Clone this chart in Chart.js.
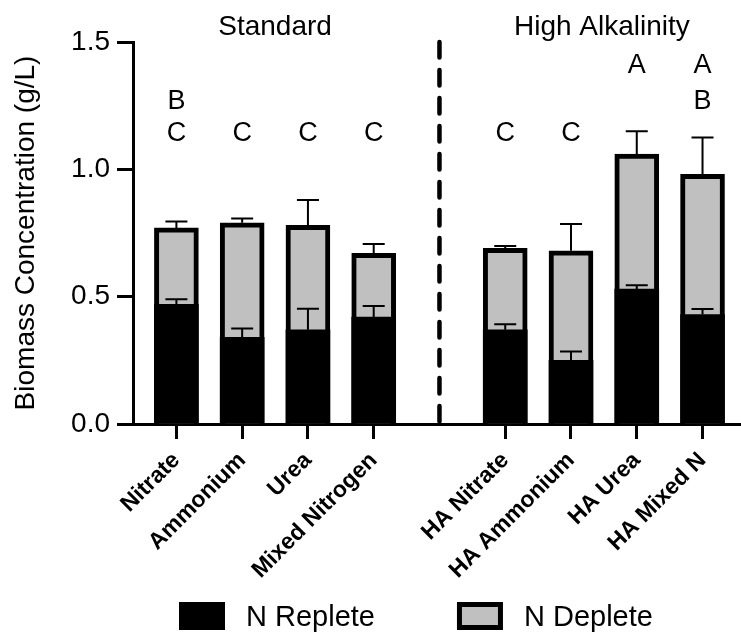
<!DOCTYPE html>
<html>
<head>
<meta charset="utf-8">
<script src="https://cdn.jsdelivr.net/npm/chart.js@4.4.0/dist/chart.umd.min.js"></script>
<style>
body { margin: 0; background: #fff; }
</style>
</head>
<body>
<canvas id="myChart" width="741" height="632"></canvas>
<script>
var categories = ["Nitrate", "Ammonium", "Urea", "Mixed Nitrogen", "", "HA Nitrate", "HA Ammonium", "HA Urea", "HA Mixed N"];
var repleteValues = [0.47, 0.34, 0.37, 0.42, null, 0.37, 0.25, 0.53, 0.43];
var repleteErrors = [0.02, 0.035, 0.083, 0.043, null, 0.022, 0.035, 0.015, 0.022];
var depleteValues = [0.77, 0.79, 0.78, 0.67, null, 0.69, 0.68, 1.06, 0.98];
var depleteErrors = [0.025, 0.017, 0.10, 0.037, null, 0.009, 0.105, 0.09, 0.145];
var letters = [["B", "C"], ["C"], ["C"], ["C"], [], ["C"], ["C"], ["A"], ["A", "B"]];
var groupTitles = ["Standard", "High Alkalinity"];
var groupStart = [0, 5];
var groupEnd = [3, 8];
var yTicks = [0, 0.5, 1.0, 1.5];

var FONT = "'Liberation Sans', Arial, Helvetica, sans-serif";

function toPoints(vals) {
    return vals.map(function(v, i) {
        return v === null ? null : { x: i, y: v };
    }).filter(function(p) { return p; });
}

// up-only error bars, drawn from each bar top
var errorBars = {
    id: 'errorBars',
    afterDatasetsDraw: function(chart) {
        var ctx = chart.ctx;
        var yScale = chart.scales.y;
        chart.data.datasets.forEach(function(ds, di) {
            var meta = chart.getDatasetMeta(di);
            meta.data.forEach(function(bar, j) {
                var p = ds.data[j];
                var err = ds.errors[p.x];
                var top = yScale.getPixelForValue(p.y + err);
                ctx.save();
                ctx.strokeStyle = '#000';
                ctx.lineWidth = 2;
                ctx.beginPath();
                ctx.moveTo(bar.x, bar.y);
                ctx.lineTo(bar.x, top);
                ctx.moveTo(bar.x - 11, top);
                ctx.lineTo(bar.x + 11, top);
                ctx.stroke();
                ctx.restore();
            });
        });
    }
};

var decorations = {
    id: 'decorations',
    afterDraw: function(chart) {
        var ctx = chart.ctx;
        var xScale = chart.scales.x;
        var yScale = chart.scales.y;
        ctx.save();

        // separator between the two groups
        var sepX = xScale.getPixelForValue(4);
        ctx.strokeStyle = '#000';
        ctx.lineWidth = 4.5;
        ctx.lineCap = 'round';
        ctx.setLineDash([15.5, 12.5]);
        ctx.beginPath();
        ctx.moveTo(sepX, chart.chartArea.top);
        ctx.lineTo(sepX, chart.chartArea.bottom + 4);
        ctx.stroke();
        ctx.setLineDash([]);

        // group titles
        ctx.fillStyle = '#000';
        ctx.font = '28px ' + FONT;
        ctx.textAlign = 'center';
        ctx.textBaseline = 'alphabetic';
        groupTitles.forEach(function(t, g) {
            var cx = (xScale.getPixelForValue(groupStart[g]) + xScale.getPixelForValue(groupEnd[g])) / 2;
            ctx.fillText(t, cx - 2 * g, 35);
        });

        // significance letters
        var rows = { A: 1.379, B: 1.235, C: 1.113 };
        ctx.font = '27px ' + FONT;
        letters.forEach(function(list, i) {
            list.forEach(function(l) {
                ctx.fillText(l, xScale.getPixelForValue(i), yScale.getPixelForValue(rows[l]));
            });
        });

        // legend
        var x = 179;
        ctx.font = '29px ' + FONT;
        ctx.textAlign = 'left';
        chart.data.datasets.forEach(function(ds) {
            ctx.fillStyle = '#000';
            ctx.fillRect(x, 602, 46, 28);
            if (ds.borderWidth) {
                ctx.fillStyle = ds.backgroundColor;
                ctx.fillRect(x + 5, 607, 36, 18);
            }
            ctx.fillStyle = '#000';
            ctx.fillText(ds.label, x + 67, 626);
            x = x + 67 + ctx.measureText(ds.label).width + 82;
        });
        ctx.restore();
    }
};

var ctx = document.getElementById("myChart").getContext('2d');

var myChart = new Chart(ctx, {
    type: 'bar',
    data: {
        datasets: [{
            label: 'N Replete',
            data: toPoints(repleteValues),
            errors: repleteErrors,
            backgroundColor: '#000',
            borderWidth: 0,
            barThickness: 44,
            grouped: false,
            order: 0
        }, {
            label: 'N Deplete',
            data: toPoints(depleteValues),
            errors: depleteErrors,
            backgroundColor: '#c0c0c0',
            borderColor: '#000',
            borderWidth: 5,
            barThickness: 44,
            grouped: false,
            order: 1
        }]
    },
    options: {
        responsive: false,
        animation: false,
        layout: { padding: { top: 42, right: 0, bottom: 0, left: 0 } },
        plugins: {
            legend: { display: false },
            tooltip: { enabled: false }
        },
        scales: {
            x: {
                type: 'linear',
                min: -0.66,
                max: 8.585,
                offset: false,
                afterFit: function(s) { s.height = 208; },
                afterBuildTicks: function(s) {
                    s.ticks = categories.map(function(c, i) { return { value: i }; })
                        .filter(function(t) { return categories[t.value] !== ''; });
                },
                border: { display: true, color: '#000', width: 3 },
                grid: { drawOnChartArea: false, offset: false, drawTicks: true, tickLength: 15, tickWidth: 3, tickColor: '#000' },
                ticks: {
                    autoSkip: false,
                    minRotation: 45,
                    maxRotation: 45,
                    padding: 8,
                    color: '#000',
                    font: { size: 23, weight: 'bold', family: FONT },
                    callback: function(v) { return categories[v]; }
                }
            },
            y: {
                min: 0,
                max: 1.5,
                afterFit: function(s) { s.width = 133; },
                afterBuildTicks: function(s) {
                    s.ticks = yTicks.map(function(v) { return { value: v }; });
                },
                border: { display: true, color: '#000', width: 3 },
                grid: { drawOnChartArea: false, drawTicks: true, tickLength: 16, tickWidth: 3, tickColor: '#000' },
                ticks: {
                    padding: 7,
                    color: '#000',
                    font: { size: 28, family: FONT },
                    callback: function(v) { return v.toFixed(1); }
                },
                title: {
                    display: true,
                    text: 'Biomass Concentration (g/L)',
                    color: '#000',
                    font: { size: 28, family: FONT },
                    padding: { top: 9, bottom: 0 }
                }
            }
        }
    },
    plugins: [errorBars, decorations]
});
</script>
</body>
</html>
